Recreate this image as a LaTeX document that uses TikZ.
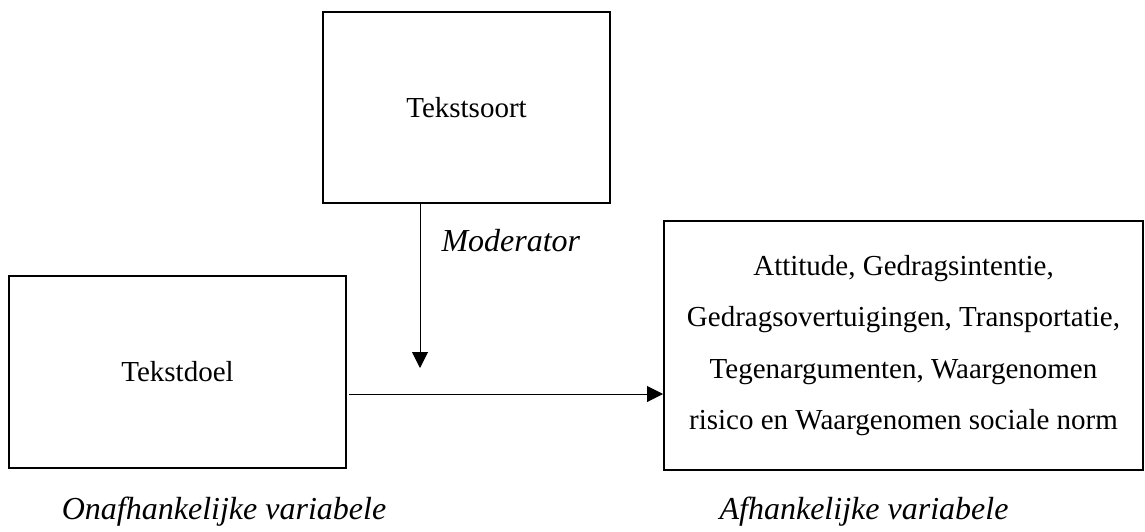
\documentclass[tikz,border=0pt]{standalone}
\usepackage{fontspec}
\setmainfont{Liberation Serif}
\usetikzlibrary{arrows.meta}

\begin{document}
\begin{tikzpicture}[x=1pt, y=-1pt,
  box/.style={draw, line width=2pt, align=center, inner sep=0pt},
  conn/.style={line width=1pt, -{Triangle[length=16pt, width=16pt]}}]
  \useasboundingbox (0,0) rectangle (1145,532);

  % Boxes
  \node[box, minimum width=287pt, minimum height=191pt, font=\fontsize{29}{34}\selectfont]
    (soort) at (466.5,107.5) {Tekstsoort};
  \node[box, minimum width=337pt, minimum height=192pt, font=\fontsize{29}{34}\selectfont]
    (doel) at (177.5,372) {Tekstdoel};
  \node[box, minimum width=479pt, minimum height=249pt, font=\fontsize{29}{51.6}\selectfont]
    (afh) at (903.5,345.5) {Attitude, Gedragsintentie,\\ Gedragsovertuigingen, Transportatie,\\
      Tegenargumenten, Waargenomen\\ risico en Waargenomen sociale norm};

  % Connector end points
  \coordinate (mod) at (420,368);
  \coordinate (start) at (349,394);

  % Arrows
  \draw[conn] (soort.south -| mod) -- (mod);
  \draw[conn] (start) -- (start -| afh.west);

  % Labels
  \node[anchor=west, font=\fontsize{32}{38}\selectfont\itshape] (modlabel) at (438,241) {Moderator};
  \node[font=\fontsize{32}{38}\selectfont\itshape] (onafh) at (224,512) {Onafhankelijke variabele};
  \node[font=\fontsize{32}{38}\selectfont\itshape] (afhlabel) at (864,512) {Afhankelijke variabele};
\end{tikzpicture}
\end{document}
